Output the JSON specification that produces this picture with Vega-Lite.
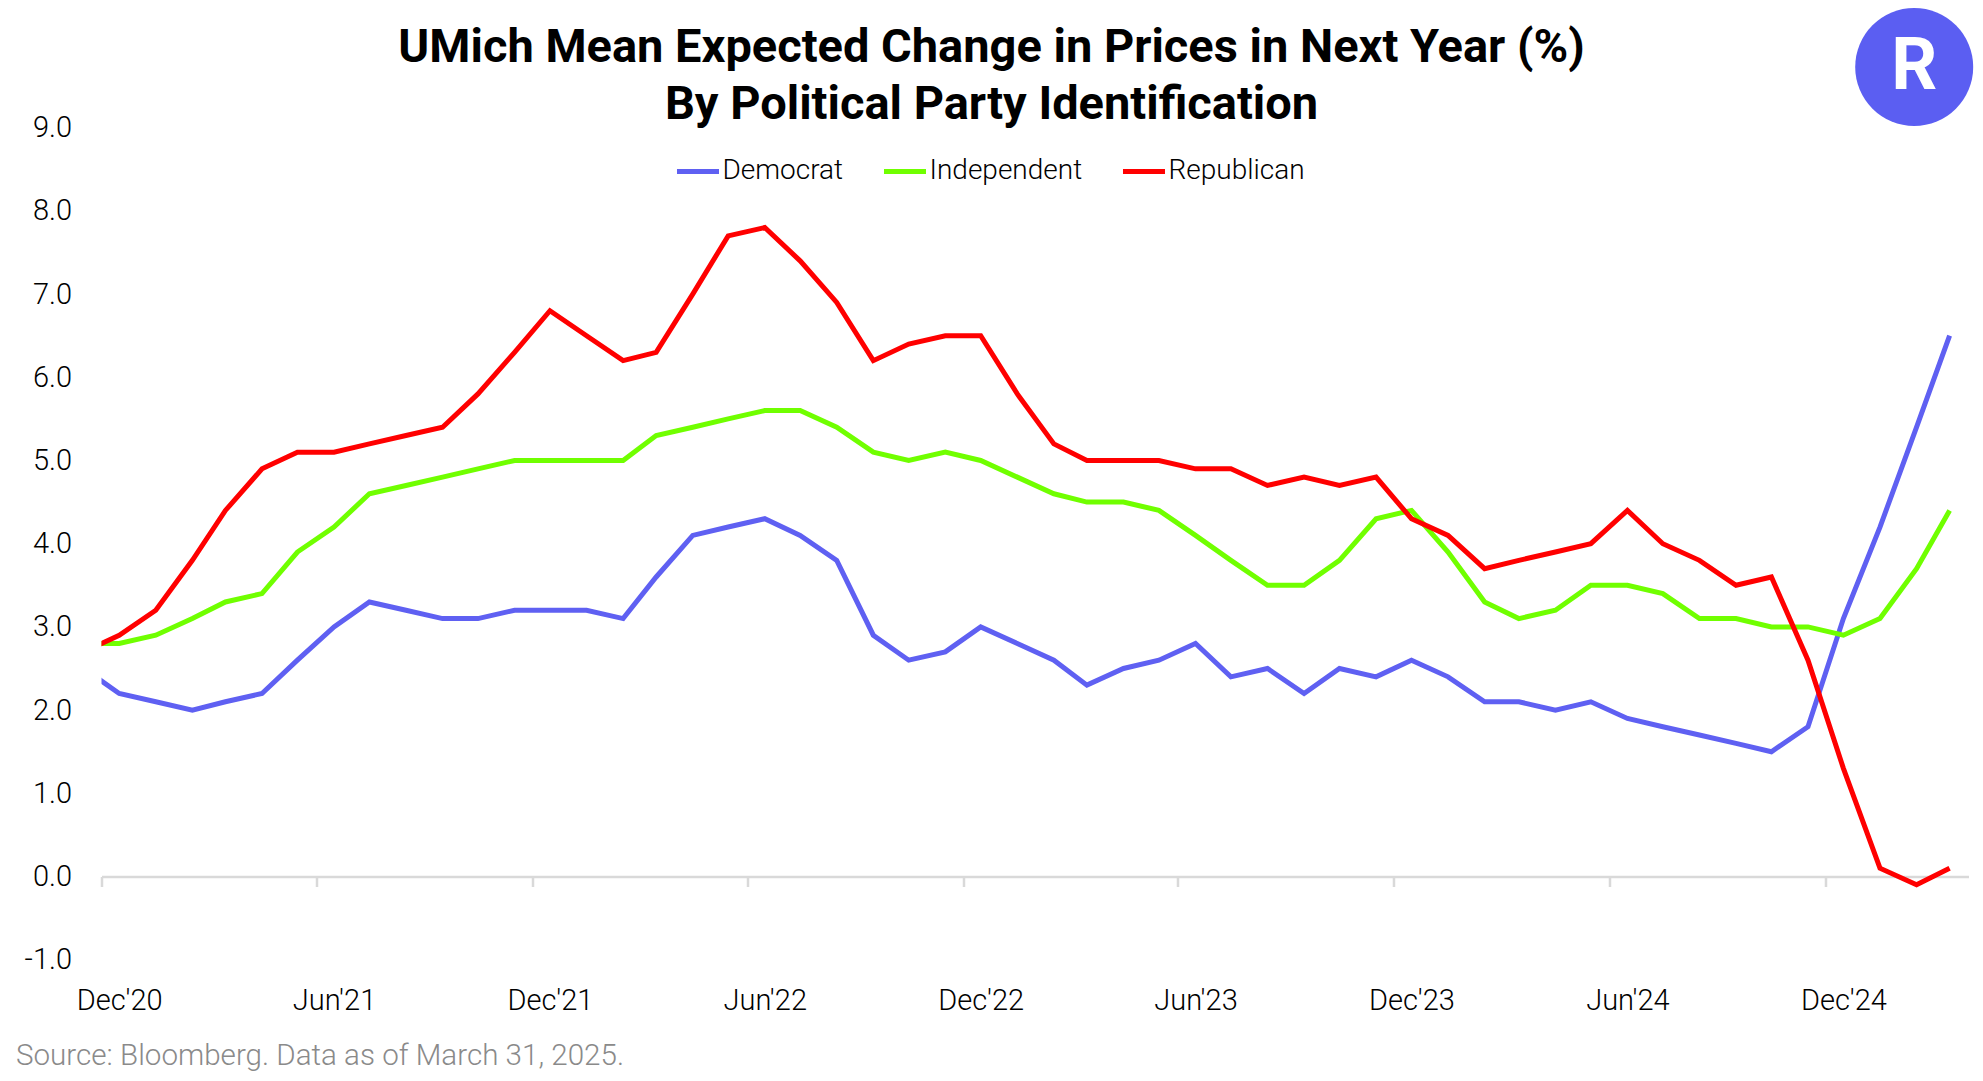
{
  "$schema": "https://vega.github.io/schema/vega-lite/v6.json",
  "width": 1867,
  "height": 832,
  "autosize": {"type": "none"},
  "padding": {"left": 101.5, "top": 127.7, "right": 14.4, "bottom": 121.1},
  "background": "white",
  "config": {"view": {"stroke": null}, "font": "Roboto"},
  "title": {
    "text": ["UMich Mean Expected Change in Prices in Next Year (%)", "By Political Party Identification"],
    "font": "Roboto", "fontSize": 47, "fontWeight": 700, "color": "black",
    "anchor": "middle", "dx": -43.5, "dy": 121, "offset": 0, "lineHeight": 57
  },
  "datasets": {
    "umich": [
      {"date": "2020-11-16", "party": "Democrat", "value": 2.5},
      {"date": "2020-12-16", "party": "Democrat", "value": 2.2},
      {"date": "2021-01-16", "party": "Democrat", "value": 2.1},
      {"date": "2021-02-16", "party": "Democrat", "value": 2.0},
      {"date": "2021-03-16", "party": "Democrat", "value": 2.1},
      {"date": "2021-04-16", "party": "Democrat", "value": 2.2},
      {"date": "2021-05-16", "party": "Democrat", "value": 2.6},
      {"date": "2021-06-16", "party": "Democrat", "value": 3.0},
      {"date": "2021-07-16", "party": "Democrat", "value": 3.3},
      {"date": "2021-08-16", "party": "Democrat", "value": 3.2},
      {"date": "2021-09-16", "party": "Democrat", "value": 3.1},
      {"date": "2021-10-16", "party": "Democrat", "value": 3.1},
      {"date": "2021-11-16", "party": "Democrat", "value": 3.2},
      {"date": "2021-12-16", "party": "Democrat", "value": 3.2},
      {"date": "2022-01-16", "party": "Democrat", "value": 3.2},
      {"date": "2022-02-16", "party": "Democrat", "value": 3.1},
      {"date": "2022-03-16", "party": "Democrat", "value": 3.6},
      {"date": "2022-04-16", "party": "Democrat", "value": 4.1},
      {"date": "2022-05-16", "party": "Democrat", "value": 4.2},
      {"date": "2022-06-16", "party": "Democrat", "value": 4.3},
      {"date": "2022-07-16", "party": "Democrat", "value": 4.1},
      {"date": "2022-08-16", "party": "Democrat", "value": 3.8},
      {"date": "2022-09-16", "party": "Democrat", "value": 2.9},
      {"date": "2022-10-16", "party": "Democrat", "value": 2.6},
      {"date": "2022-11-16", "party": "Democrat", "value": 2.7},
      {"date": "2022-12-16", "party": "Democrat", "value": 3.0},
      {"date": "2023-01-16", "party": "Democrat", "value": 2.8},
      {"date": "2023-02-16", "party": "Democrat", "value": 2.6},
      {"date": "2023-03-16", "party": "Democrat", "value": 2.3},
      {"date": "2023-04-16", "party": "Democrat", "value": 2.5},
      {"date": "2023-05-16", "party": "Democrat", "value": 2.6},
      {"date": "2023-06-16", "party": "Democrat", "value": 2.8},
      {"date": "2023-07-16", "party": "Democrat", "value": 2.4},
      {"date": "2023-08-16", "party": "Democrat", "value": 2.5},
      {"date": "2023-09-16", "party": "Democrat", "value": 2.2},
      {"date": "2023-10-16", "party": "Democrat", "value": 2.5},
      {"date": "2023-11-16", "party": "Democrat", "value": 2.4},
      {"date": "2023-12-16", "party": "Democrat", "value": 2.6},
      {"date": "2024-01-16", "party": "Democrat", "value": 2.4},
      {"date": "2024-02-16", "party": "Democrat", "value": 2.1},
      {"date": "2024-03-16", "party": "Democrat", "value": 2.1},
      {"date": "2024-04-16", "party": "Democrat", "value": 2.0},
      {"date": "2024-05-16", "party": "Democrat", "value": 2.1},
      {"date": "2024-06-16", "party": "Democrat", "value": 1.9},
      {"date": "2024-07-16", "party": "Democrat", "value": 1.8},
      {"date": "2024-08-16", "party": "Democrat", "value": 1.7},
      {"date": "2024-09-16", "party": "Democrat", "value": 1.6},
      {"date": "2024-10-16", "party": "Democrat", "value": 1.5},
      {"date": "2024-11-16", "party": "Democrat", "value": 1.8},
      {"date": "2024-12-16", "party": "Democrat", "value": 3.1},
      {"date": "2025-01-16", "party": "Democrat", "value": 4.2},
      {"date": "2025-02-16", "party": "Democrat", "value": 5.4},
      {"date": "2025-03-16", "party": "Democrat", "value": 6.5},
      {"date": "2020-11-16", "party": "Independent", "value": 2.8},
      {"date": "2020-12-16", "party": "Independent", "value": 2.8},
      {"date": "2021-01-16", "party": "Independent", "value": 2.9},
      {"date": "2021-02-16", "party": "Independent", "value": 3.1},
      {"date": "2021-03-16", "party": "Independent", "value": 3.3},
      {"date": "2021-04-16", "party": "Independent", "value": 3.4},
      {"date": "2021-05-16", "party": "Independent", "value": 3.9},
      {"date": "2021-06-16", "party": "Independent", "value": 4.2},
      {"date": "2021-07-16", "party": "Independent", "value": 4.6},
      {"date": "2021-08-16", "party": "Independent", "value": 4.7},
      {"date": "2021-09-16", "party": "Independent", "value": 4.8},
      {"date": "2021-10-16", "party": "Independent", "value": 4.9},
      {"date": "2021-11-16", "party": "Independent", "value": 5.0},
      {"date": "2021-12-16", "party": "Independent", "value": 5.0},
      {"date": "2022-01-16", "party": "Independent", "value": 5.0},
      {"date": "2022-02-16", "party": "Independent", "value": 5.0},
      {"date": "2022-03-16", "party": "Independent", "value": 5.3},
      {"date": "2022-04-16", "party": "Independent", "value": 5.4},
      {"date": "2022-05-16", "party": "Independent", "value": 5.5},
      {"date": "2022-06-16", "party": "Independent", "value": 5.6},
      {"date": "2022-07-16", "party": "Independent", "value": 5.6},
      {"date": "2022-08-16", "party": "Independent", "value": 5.4},
      {"date": "2022-09-16", "party": "Independent", "value": 5.1},
      {"date": "2022-10-16", "party": "Independent", "value": 5.0},
      {"date": "2022-11-16", "party": "Independent", "value": 5.1},
      {"date": "2022-12-16", "party": "Independent", "value": 5.0},
      {"date": "2023-01-16", "party": "Independent", "value": 4.8},
      {"date": "2023-02-16", "party": "Independent", "value": 4.6},
      {"date": "2023-03-16", "party": "Independent", "value": 4.5},
      {"date": "2023-04-16", "party": "Independent", "value": 4.5},
      {"date": "2023-05-16", "party": "Independent", "value": 4.4},
      {"date": "2023-06-16", "party": "Independent", "value": 4.1},
      {"date": "2023-07-16", "party": "Independent", "value": 3.8},
      {"date": "2023-08-16", "party": "Independent", "value": 3.5},
      {"date": "2023-09-16", "party": "Independent", "value": 3.5},
      {"date": "2023-10-16", "party": "Independent", "value": 3.8},
      {"date": "2023-11-16", "party": "Independent", "value": 4.3},
      {"date": "2023-12-16", "party": "Independent", "value": 4.4},
      {"date": "2024-01-16", "party": "Independent", "value": 3.9},
      {"date": "2024-02-16", "party": "Independent", "value": 3.3},
      {"date": "2024-03-16", "party": "Independent", "value": 3.1},
      {"date": "2024-04-16", "party": "Independent", "value": 3.2},
      {"date": "2024-05-16", "party": "Independent", "value": 3.5},
      {"date": "2024-06-16", "party": "Independent", "value": 3.5},
      {"date": "2024-07-16", "party": "Independent", "value": 3.4},
      {"date": "2024-08-16", "party": "Independent", "value": 3.1},
      {"date": "2024-09-16", "party": "Independent", "value": 3.1},
      {"date": "2024-10-16", "party": "Independent", "value": 3.0},
      {"date": "2024-11-16", "party": "Independent", "value": 3.0},
      {"date": "2024-12-16", "party": "Independent", "value": 2.9},
      {"date": "2025-01-16", "party": "Independent", "value": 3.1},
      {"date": "2025-02-16", "party": "Independent", "value": 3.7},
      {"date": "2025-03-16", "party": "Independent", "value": 4.4},
      {"date": "2020-11-16", "party": "Republican", "value": 2.7},
      {"date": "2020-12-16", "party": "Republican", "value": 2.9},
      {"date": "2021-01-16", "party": "Republican", "value": 3.2},
      {"date": "2021-02-16", "party": "Republican", "value": 3.8},
      {"date": "2021-03-16", "party": "Republican", "value": 4.4},
      {"date": "2021-04-16", "party": "Republican", "value": 4.9},
      {"date": "2021-05-16", "party": "Republican", "value": 5.1},
      {"date": "2021-06-16", "party": "Republican", "value": 5.1},
      {"date": "2021-07-16", "party": "Republican", "value": 5.2},
      {"date": "2021-08-16", "party": "Republican", "value": 5.3},
      {"date": "2021-09-16", "party": "Republican", "value": 5.4},
      {"date": "2021-10-16", "party": "Republican", "value": 5.8},
      {"date": "2021-11-16", "party": "Republican", "value": 6.3},
      {"date": "2021-12-16", "party": "Republican", "value": 6.8},
      {"date": "2022-01-16", "party": "Republican", "value": 6.5},
      {"date": "2022-02-16", "party": "Republican", "value": 6.2},
      {"date": "2022-03-16", "party": "Republican", "value": 6.3},
      {"date": "2022-04-16", "party": "Republican", "value": 7.0},
      {"date": "2022-05-16", "party": "Republican", "value": 7.7},
      {"date": "2022-06-16", "party": "Republican", "value": 7.8},
      {"date": "2022-07-16", "party": "Republican", "value": 7.4},
      {"date": "2022-08-16", "party": "Republican", "value": 6.9},
      {"date": "2022-09-16", "party": "Republican", "value": 6.2},
      {"date": "2022-10-16", "party": "Republican", "value": 6.4},
      {"date": "2022-11-16", "party": "Republican", "value": 6.5},
      {"date": "2022-12-16", "party": "Republican", "value": 6.5},
      {"date": "2023-01-16", "party": "Republican", "value": 5.8},
      {"date": "2023-02-16", "party": "Republican", "value": 5.2},
      {"date": "2023-03-16", "party": "Republican", "value": 5.0},
      {"date": "2023-04-16", "party": "Republican", "value": 5.0},
      {"date": "2023-05-16", "party": "Republican", "value": 5.0},
      {"date": "2023-06-16", "party": "Republican", "value": 4.9},
      {"date": "2023-07-16", "party": "Republican", "value": 4.9},
      {"date": "2023-08-16", "party": "Republican", "value": 4.7},
      {"date": "2023-09-16", "party": "Republican", "value": 4.8},
      {"date": "2023-10-16", "party": "Republican", "value": 4.7},
      {"date": "2023-11-16", "party": "Republican", "value": 4.8},
      {"date": "2023-12-16", "party": "Republican", "value": 4.3},
      {"date": "2024-01-16", "party": "Republican", "value": 4.1},
      {"date": "2024-02-16", "party": "Republican", "value": 3.7},
      {"date": "2024-03-16", "party": "Republican", "value": 3.8},
      {"date": "2024-04-16", "party": "Republican", "value": 3.9},
      {"date": "2024-05-16", "party": "Republican", "value": 4.0},
      {"date": "2024-06-16", "party": "Republican", "value": 4.4},
      {"date": "2024-07-16", "party": "Republican", "value": 4.0},
      {"date": "2024-08-16", "party": "Republican", "value": 3.8},
      {"date": "2024-09-16", "party": "Republican", "value": 3.5},
      {"date": "2024-10-16", "party": "Republican", "value": 3.6},
      {"date": "2024-11-16", "party": "Republican", "value": 2.6},
      {"date": "2024-12-16", "party": "Republican", "value": 1.3},
      {"date": "2025-01-16", "party": "Republican", "value": 0.1},
      {"date": "2025-02-16", "party": "Republican", "value": -0.1},
      {"date": "2025-03-16", "party": "Republican", "value": 0.1}
    ],
    "logo": [
      {"date": "2025-02-14", "value": 9.73, "glyph": "R"}
    ]
  },
  "encoding": {
    "x": {
      "field": "date", "type": "temporal",
      "scale": {"type": "utc", "domain": [{"year": 2020, "month": 12, "date": 1, "utc": true}, {"year": 2025, "month": 4, "date": 1, "utc": true}]},
      "axis": {
        "title": "Source: Bloomberg. Data as of March 31, 2025.",
        "titleFont": "Roboto", "titleFontSize": 29.6, "titleFontWeight": 300, "titleColor": "#8a8a8a",
        "titleAlign": "left", "titleAnchor": "start", "titleX": -86, "titleY": 188.5, "titleBaseline": "alphabetic",
        "offset": -83.2,
        "values": [
          {"year": 2020, "month": 12, "date": 1, "utc": true},
          {"year": 2021, "month": 6, "date": 1, "utc": true},
          {"year": 2021, "month": 12, "date": 1, "utc": true},
          {"year": 2022, "month": 6, "date": 1, "utc": true},
          {"year": 2022, "month": 12, "date": 1, "utc": true},
          {"year": 2023, "month": 6, "date": 1, "utc": true},
          {"year": 2023, "month": 12, "date": 1, "utc": true},
          {"year": 2024, "month": 6, "date": 1, "utc": true},
          {"year": 2024, "month": 12, "date": 1, "utc": true}
        ],
        "format": "%b'%y",
        "grid": false,
        "domainColor": "#d9d9d9", "domainWidth": 2.5,
        "tickColor": "#d9d9d9", "tickWidth": 2.5, "tickSize": 10,
        "labelFont": "Roboto", "labelFontSize": 29, "labelFontWeight": 300, "labelColor": "black",
        "labelPadding": 100, "labelOffset": 17.7, "labelFlush": false, "labelOverlap": false
      }
    },
    "y": {
      "field": "value", "type": "quantitative",
      "scale": {"domain": [-1, 9], "nice": false, "zero": false},
      "axis": {
        "title": null, "values": [-1, 0, 1, 2, 3, 4, 5, 6, 7, 8, 9],
        "labelExpr": "datum.value < 0 ? '-' + format(-datum.value, '.1f') : format(datum.value, '.1f')",
        "domain": false, "ticks": false, "tickSize": 0, "grid": false,
        "labelFont": "Roboto", "labelFontSize": 29, "labelFontWeight": 300, "labelColor": "black", "labelPadding": 30
      }
    }
  },
  "layer": [
    {
      "data": {"name": "umich"},
      "mark": {"type": "line", "clip": true, "strokeWidth": 5},
      "encoding": {
        "color": {
          "field": "party", "type": "nominal",
          "scale": {"domain": ["Democrat", "Independent", "Republican"], "range": ["#5f60f2", "#70ff00", "#ff0000"]},
          "legend": {
            "title": null, "orient": "none", "legendX": 573, "legendY": 20, "direction": "horizontal",
            "symbolType": "stroke", "symbolSize": 1764, "symbolStrokeWidth": 5,
            "labelFont": "Roboto", "labelFontSize": 28, "labelFontWeight": 300, "labelColor": "black", "labelOffset": 1,
            "columnPadding": 30, "padding": 0
          }
        }
      }
    },
    {
      "data": {"name": "logo"},
      "mark": {"type": "point", "shape": "circle", "filled": true, "opacity": 1, "size": 13924, "color": "#5b5ef2", "clip": false}
    },
    {
      "data": {"name": "logo"},
      "mark": {"type": "text", "color": "white", "font": "Roboto", "fontWeight": 700, "fontSize": 72, "baseline": "middle", "align": "center", "clip": false},
      "encoding": {"text": {"field": "glyph"}}
    }
  ]
}
